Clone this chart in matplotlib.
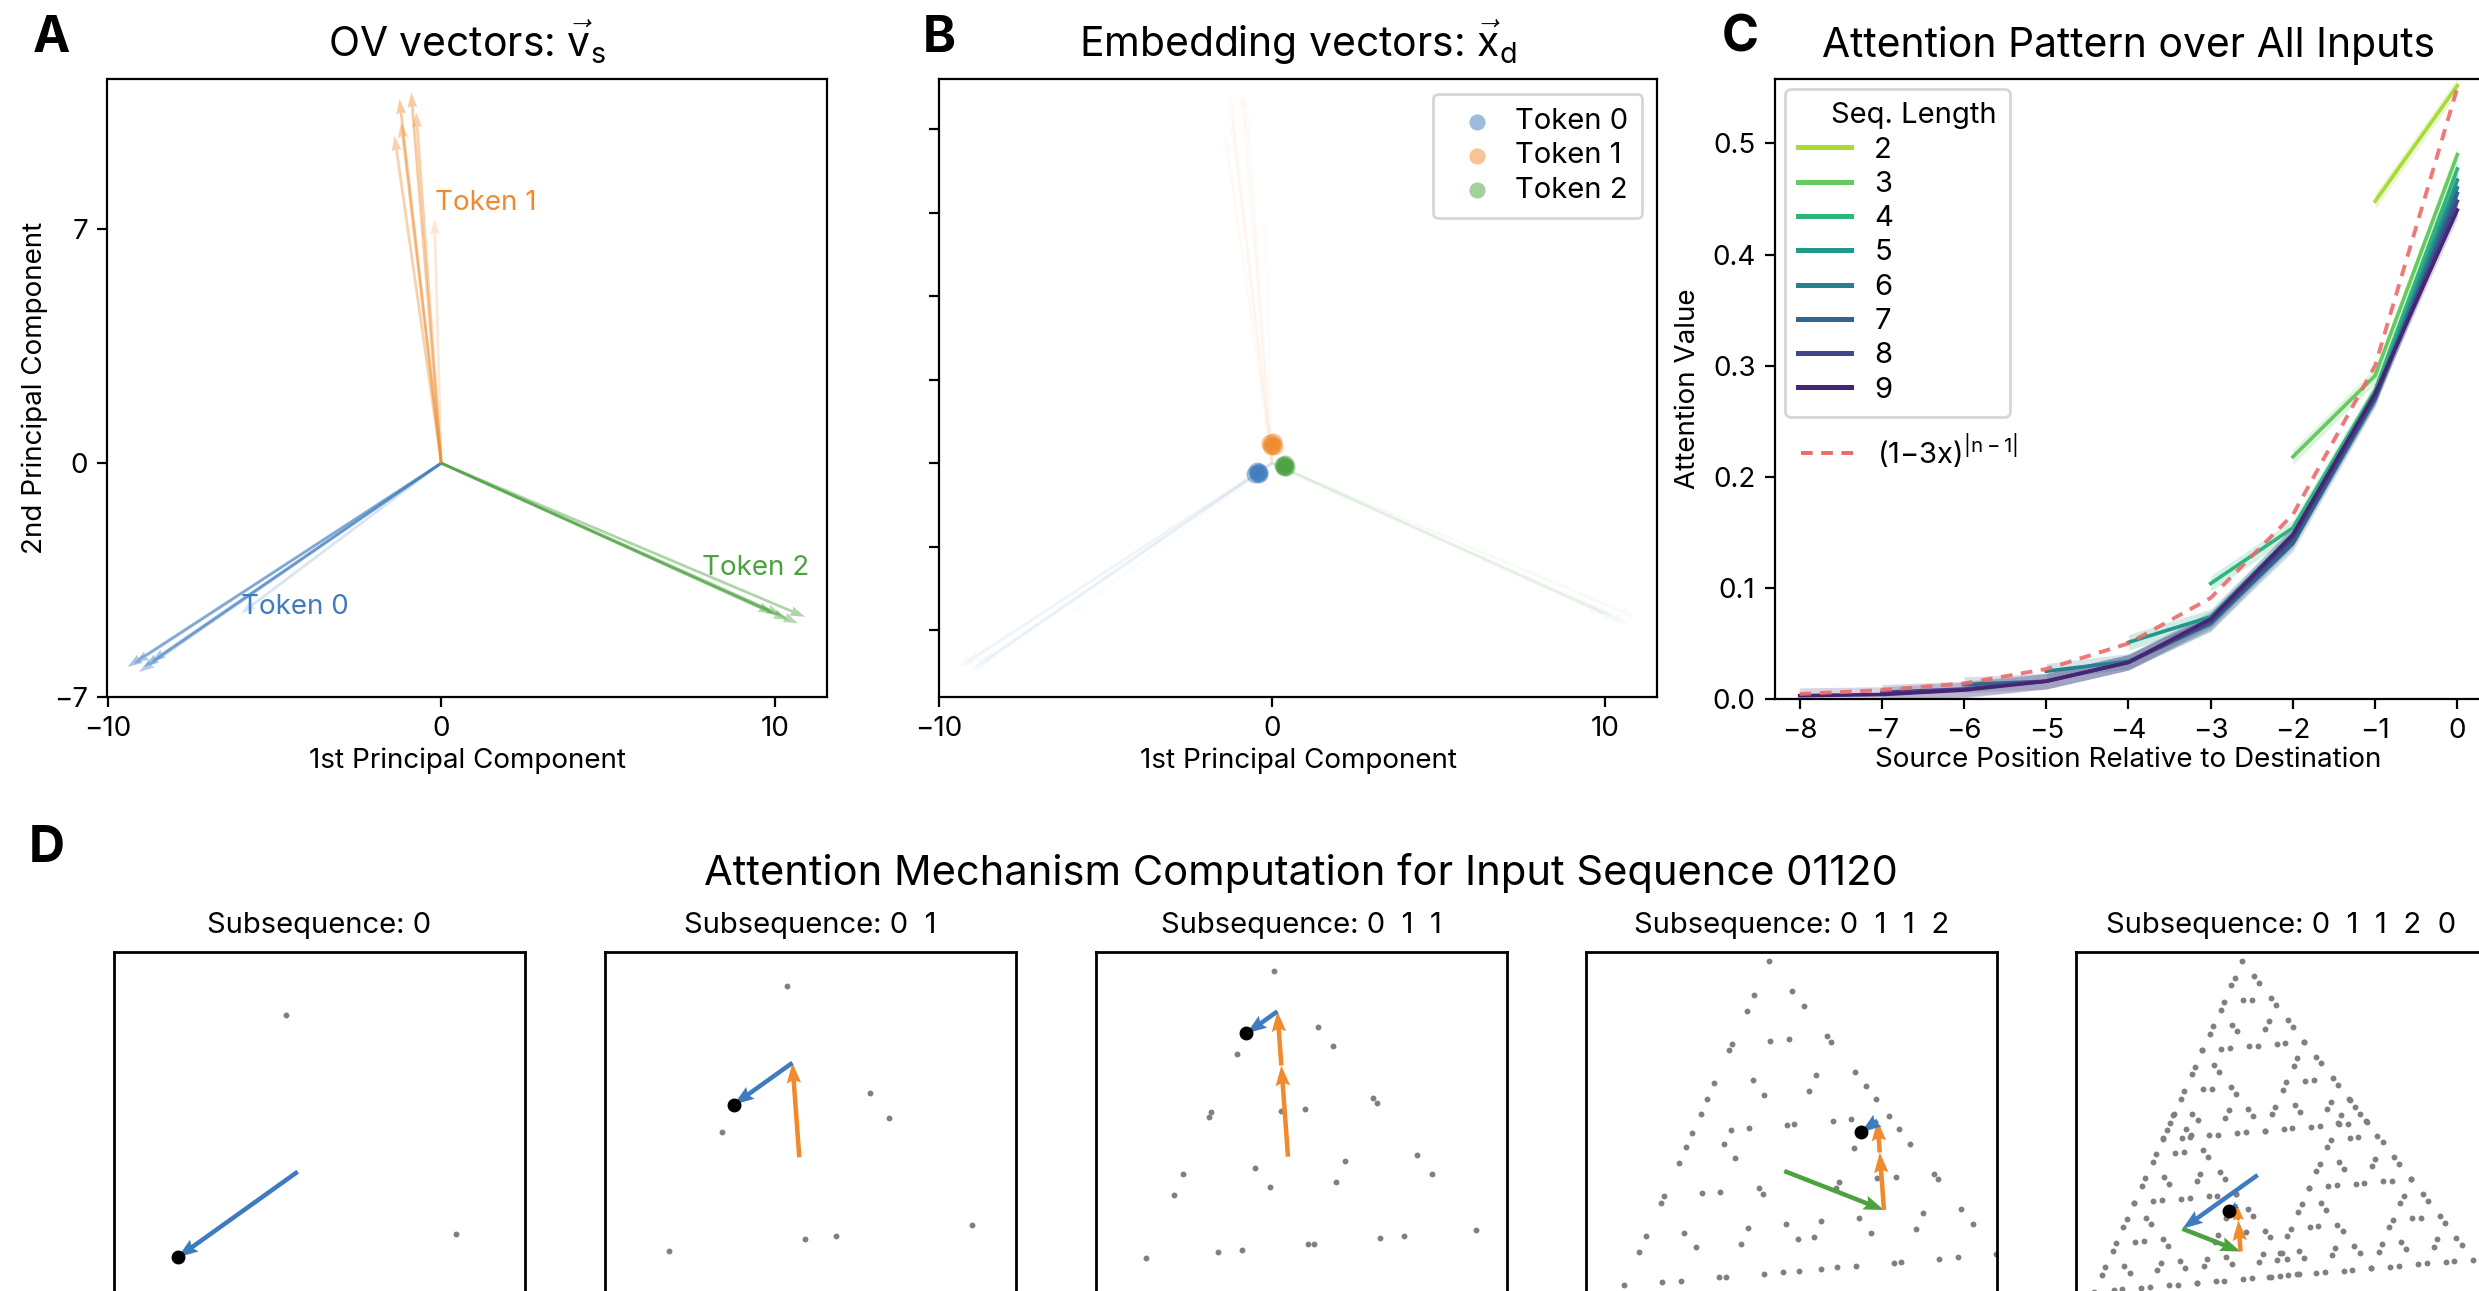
import itertools
import numpy as np
import matplotlib.pyplot as plt
from matplotlib.colors import to_rgba
from matplotlib.lines import Line2D

W, H, DPI = 2479, 1291, 200

plt.rcParams['font.family'] = ['Inter', 'DejaVu Sans']
plt.rcParams['mathtext.fontset'] = 'custom'
plt.rcParams['mathtext.rm'] = 'Inter'
plt.rcParams['mathtext.it'] = 'Inter'
plt.rcParams['axes.unicode_minus'] = True

BLUE = '#3f7cbf'
ORANGE = '#f08a2c'
GREEN = '#4ba23f'
TOKEN_COLORS = [BLUE, ORANGE, GREEN]

# ---------------- data ----------------
# A: tips of the OV vectors (1st / 2nd principal component)
ov_tok0_x = [-9.4, -8.9, -9.2, -9.05, -8.7, -6.0]
ov_tok0_y = [-6.1, -6.1, -6.0, -6.25, -5.95, -4.5]
ov_tok1_x = [-1.25, -0.9, -1.2, -1.4, -0.75, -0.2]
ov_tok1_y = [10.9, 11.1, 10.2, 9.8, 10.5, 7.3]
ov_tok2_x = [10.9, 9.95, 10.4, 10.7, 10.2]
ov_tok2_y = [-4.6, -4.5, -4.7, -4.8, -4.55]
ov_alpha0 = [0.45, 0.45, 0.4, 0.4, 0.4, 0.2]
ov_alpha1 = [0.45, 0.45, 0.4, 0.4, 0.4, 0.2]
ov_alpha2 = [0.45, 0.45, 0.4, 0.4, 0.4]

# B: embedding vectors
emb_tok0_x = [-0.43, -0.5, -0.38, -0.46, -0.4]
emb_tok0_y = [-0.29, -0.33, -0.25, -0.22, -0.32]
emb_tok1_x = [0.0, -0.05, 0.05, 0.02, -0.03]
emb_tok1_y = [0.55, 0.6, 0.5, 0.62, 0.52]
emb_tok2_x = [0.37, 0.33, 0.42, 0.4, 0.35]
emb_tok2_y = [-0.09, -0.05, -0.12, -0.04, -0.11]

# C: mean attention per source position, one list per sequence length
seq_lengths = [2, 3, 4, 5, 6, 7, 8, 9]
attn_len2 = [0.448, 0.552]
attn_len3 = [0.218, 0.291, 0.490]
attn_len4 = [0.104, 0.154, 0.278, 0.477]
attn_len5 = [0.051, 0.074, 0.148, 0.273, 0.467]
attn_len6 = [0.025, 0.034, 0.068, 0.143, 0.272, 0.460]
attn_len7 = [0.013, 0.016, 0.033, 0.068, 0.140, 0.270, 0.455]
attn_len8 = [0.006, 0.009, 0.016, 0.033, 0.070, 0.145, 0.272, 0.448]
attn_len9 = [0.003, 0.004, 0.008, 0.016, 0.033, 0.072, 0.148, 0.275, 0.440]
attn_all = [attn_len2, attn_len3, attn_len4, attn_len5,
            attn_len6, attn_len7, attn_len8, attn_len9]
fit_x = [-8, -7, -6, -5, -4, -3, -2, -1, 0]
fit_y = [0.0045, 0.008, 0.014, 0.027, 0.050, 0.091, 0.166, 0.300, 0.550]

# D: OV vectors used in the computation panels, and the input sequence
d_vec_x = [-8.4, -0.8, 11.1]
d_vec_y = [-6.0, 11.0, -4.35]
input_seq = [0, 1, 1, 2, 0]


def box(l, t, r, b):
    return [l / W, 1 - b / H, (r - l) / W, (b - t) / H]


fig = plt.figure(figsize=(W / DPI, H / DPI), dpi=DPI)

TITLE = 14.7
LAB = 10
TICK = 10


def ov_arrows(ax, fade=1.0):
    sets = [(ov_tok0_x, ov_tok0_y, ov_alpha0, BLUE),
            (ov_tok1_x, ov_tok1_y, ov_alpha1, ORANGE),
            (ov_tok2_x, ov_tok2_y, ov_alpha2, GREEN)]
    for xs, ys, al, c in sets:
        cols = [to_rgba(c, a * fade) for a in al]
        ax.quiver(np.zeros(len(xs)), np.zeros(len(xs)), xs, ys, color=cols,
                  angles='xy', scale_units='xy', scale=1, width=0.0038,
                  headwidth=3.6, headlength=5.5, headaxislength=5)


# ---------- A ----------
ax_a = fig.add_axes(box(107.5, 79, 827, 697))
ov_arrows(ax_a)
ax_a.text(-0.18, 7.8, 'Token 1', color=ORANGE, fontsize=LAB, va='center')
ax_a.text(-6.0, -4.3, 'Token 0', color=BLUE, fontsize=LAB, va='center')
ax_a.text(7.8, -3.15, 'Token 2', color=GREEN, fontsize=LAB, va='center')
ax_a.set_xlim(-10, 11.56)
ax_a.set_ylim(-7, 11.5)
ax_a.set_xticks([-10, 0, 10])
ax_a.set_yticks([-7, 0, 7])
ax_a.tick_params(labelsize=TICK)
ax_a.set_xlabel('1st Principal Component', fontsize=LAB, labelpad=2)
ax_a.set_ylabel('2nd Principal Component', fontsize=LAB, labelpad=2)
ax_a.set_title(r'OV vectors: $\vec{\mathrm{v}}_{\mathrm{s}}$', fontsize=TITLE, pad=8)

# ---------- B ----------
ax_b = fig.add_axes(box(939, 79, 1657, 697))
ov_arrows(ax_b, fade=0.1)
emb = [(emb_tok0_x, emb_tok0_y), (emb_tok1_x, emb_tok1_y), (emb_tok2_x, emb_tok2_y)]
for t, (xs, ys) in enumerate(emb):
    ax_b.scatter(xs, ys, s=42, color=TOKEN_COLORS[t], alpha=0.5, lw=0,
                 label=f'Token {t}')
ax_b.set_xlim(-10, 11.56)
ax_b.set_ylim(-7, 11.5)
ax_b.set_xticks([-10, 0, 10])
ax_b.set_yticks(np.arange(-5, 10.1, 2.5))
ax_b.set_yticklabels([])
ax_b.tick_params(labelsize=TICK)
ax_b.set_xlabel('1st Principal Component', fontsize=LAB, labelpad=2)
ax_b.set_title(r'Embedding vectors: $\vec{\mathrm{x}}_{\mathrm{d}}$', fontsize=TITLE, pad=8)
ax_b.legend(loc='upper right', fontsize=10.5, markerscale=0.9, labelspacing=0.25,
            handletextpad=0.3, borderpad=0.5, edgecolor='#cccccc')

# ---------- C ----------
ax_c = fig.add_axes(box(1775, 79, 2482, 699))
cmap = plt.get_cmap('viridis')
c_cols = [cmap(v) for v in np.linspace(0.87, 0.1, len(seq_lengths))]
handles = []
for n, vals, col in zip(seq_lengths, attn_all, c_cols):
    x = np.arange(-(n - 1), 1)
    v = np.array(vals)
    ax_c.fill_between(x, v - 0.007, v + 0.007, color=col, alpha=0.2, lw=0)
    ax_c.plot(x, v, color=col, lw=1.3)
    handles.append(Line2D([], [], color=col, lw=1.8))
ax_c.plot(fit_x, fit_y, color='#ec6a6a', lw=1.4, ls=(0, (3, 2.2)), alpha=0.9)
ax_c.set_xlim(-8.3, 0.3)
ax_c.set_ylim(0, 0.558)
ax_c.set_xticks(range(-8, 1))
ax_c.set_yticks([0.0, 0.1, 0.2, 0.3, 0.4, 0.5])
ax_c.tick_params(labelsize=TICK)
ax_c.spines['right'].set_visible(False)
ax_c.set_xlabel('Source Position Relative to Destination', fontsize=LAB, labelpad=1)
ax_c.set_ylabel('Attention Value', fontsize=LAB, labelpad=4)
ax_c.set_title('Attention Pattern over All Inputs', fontsize=TITLE, pad=8)
leg1 = ax_c.legend(handles, [str(n) for n in seq_lengths], title='    Seq. Length',
                   loc='upper left', bbox_to_anchor=(0.0, 1.0), borderaxespad=0.35,
                   fontsize=10.5, title_fontsize=10.5, labelspacing=0.25,
                   handlelength=1.8, handletextpad=0.8, borderpad=0.45,
                   edgecolor='#cccccc', alignment='left')
ax_c.add_artist(leg1)
ax_c.legend([Line2D([], [], color='#ec6a6a', lw=1.4, ls=(0, (3, 2.2)))],
            [r'(1−3x)$^{\mathregular{|n-1|}}$'], loc='upper left',
            bbox_to_anchor=(0.0, 0.475), frameon=False, fontsize=10.5,
            handlelength=1.8, handletextpad=0.8)

# ---------- D ----------
d_lefts = [114, 605, 1096, 1586, 2076]
d_origins = [(297.7, 1171.7), (799.3, 1157.3), (1288, 1156.7), (1784.3, 1171), (2257.7, 1175)]
d_scales = [14.28, 15.56, 16.9, 19.07, 19.43]
d_top, d_w, d_h = 952, 411, 520
vx = np.array(d_vec_x)
vy = np.array(d_vec_y)
for k in range(5):
    L = k + 1
    sub = input_seq[:L]
    w = np.array([1.0]) if L == 1 else np.array(attn_all[L - 2])
    w = w / w.sum()
    left = d_lefts[k]
    ax = fig.add_axes(box(left, d_top, left + d_w, d_top + d_h))
    # every possible subsequence of this length
    pts = []
    for s in itertools.product(range(3), repeat=L):
        s = np.array(s)
        pts.append((np.sum(w * vx[s]), np.sum(w * vy[s])))
    pts = np.array(pts)
    ax.scatter(pts[:, 0], pts[:, 1], s=4.5, color='#808080', lw=0, zorder=1)
    # chain of weighted OV vectors, latest token first
    cx, cy = 0.0, 0.0
    for i in range(L - 1, -1, -1):
        t = sub[i]
        dx, dy = w[i] * vx[t], w[i] * vy[t]
        ax.quiver(cx, cy, dx, dy, color=TOKEN_COLORS[t], angles='xy',
                  scale_units='xy', scale=1, width=0.011, headwidth=3.2,
                  headlength=4.5, headaxislength=4, zorder=3)
        cx, cy = cx + dx, cy + dy
    ax.scatter([cx], [cy], s=16, color='black', zorder=4)
    ox, oy = d_origins[k]
    sc = d_scales[k]
    ax.set_xlim((left - ox) / sc, (left + d_w - ox) / sc)
    ax.set_ylim((oy - (d_top + d_h)) / sc, (oy - d_top) / sc)
    ax.set_xticks([])
    ax.set_yticks([])
    for sp in ax.spines.values():
        sp.set_linewidth(1.0)
    ax.set_title('Subsequence: ' + '  '.join(str(t) for t in sub), fontsize=10.5, pad=7)

fig.text(1301 / W, 1 - 873 / H, 'Attention Mechanism Computation for Input Sequence 01120',
         fontsize=15, ha='center', va='center')

# panel letters
for lab, x, y in [('A', 51, 38), ('B', 939, 38), ('C', 1740, 38), ('D', 47, 849)]:
    fig.text(x / W, 1 - y / H, lab, fontsize=18, fontweight='bold', ha='center', va='center')

fig.savefig('out.png', dpi=DPI)
